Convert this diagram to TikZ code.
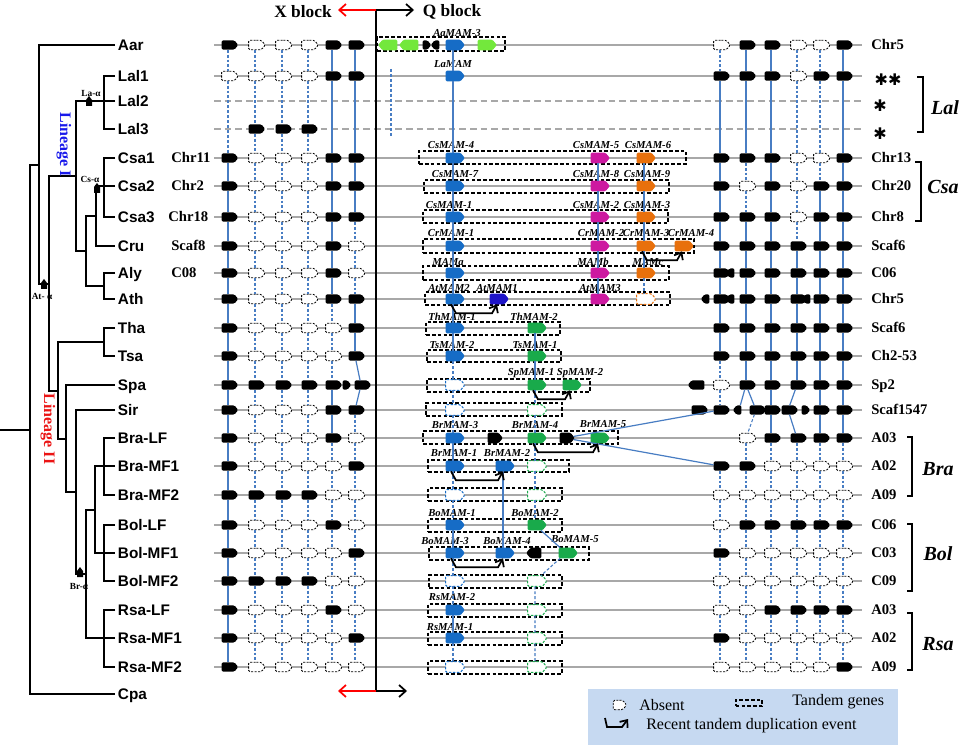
\documentclass[tikz,border=0pt]{standalone}
\usepackage{fontspec}
\setmainfont{Liberation Serif}
\newfontfamily\arialf{Liberation Sans}
\newfontfamily\djv{DejaVu Sans}
\usetikzlibrary{shapes.symbols,arrows.meta}
\definecolor{gblue}{RGB}{22,108,198}
\definecolor{lblue}{RGB}{72,125,195}
\definecolor{gmag}{RGB}{205,25,160}
\definecolor{gorg}{RGB}{232,112,12}
\definecolor{ggrn}{RGB}{25,170,75}
\definecolor{glime}{RGB}{115,232,60}
\definecolor{gdblue}{RGB}{30,20,200}
\definecolor{rowgray}{RGB}{168,168,168}
\definecolor{legbg}{RGB}{198,217,241}
\definecolor{linI}{RGB}{25,25,235}
\definecolor{linII}{RGB}{235,20,20}
\tikzset{
  sg/.style={shape=signal, signal to=east, signal pointer angle=100, inner sep=0pt, outer sep=0pt, minimum width=12.5pt, minimum height=7pt, rounded corners=1pt},
  gF/.style={sg, fill=black},
  gA/.style={sg, draw=black, fill=white, line width=0.6pt, dash pattern=on 1.6pt off 1pt},
  gSm/.style={sg, fill=black, minimum width=6.5pt},
  mg/.style={shape=signal, signal to=east, signal pointer angle=100, inner sep=0pt, outer sep=0pt, minimum width=14.5pt, minimum height=8pt, rounded corners=1pt},
  mF/.style={mg, fill=#1},
  mA/.style={mg, draw=#1, fill=white, line width=0.75pt, dash pattern=on 1.8pt off 1.2pt},
  lnkS/.style={draw=lblue, line width=0.9pt},
  lnkD/.style={draw=lblue, line width=0.8pt, dash pattern=on 2.2pt off 1.5pt},
  rowline/.style={draw=rowgray, line width=1pt},
  rowdash/.style={draw=rowgray, line width=1pt, dash pattern=on 5pt off 3pt},
  tbox/.style={draw=black, line width=1.1pt, dash pattern=on 2.8pt off 1.6pt, inner sep=0pt},
  tand/.style={draw=black, line width=1.3pt, -{Straight Barb[length=4.5pt,width=7.5pt,line width=1.3pt]}},
  glab/.style={font=\bfseries\itshape\fontsize{8}{9}\selectfont, inner sep=0pt},
  splab/.style={anchor=west, font=\arialf\bfseries\fontsize{11.5}{13}\selectfont, inner sep=2pt, text height=8.2pt, text depth=0pt},
  chrlab/.style={anchor=west, font=\bfseries\fontsize{11}{13}\selectfont, inner sep=0pt, text height=7.3pt, text depth=0pt},
  grplab/.style={font=\bfseries\itshape\fontsize{15}{17}\selectfont, inner sep=0pt},
  trl/.style={draw=black, line width=1.7pt},
  mklab/.style={font=\bfseries\fontsize{7}{8}\selectfont, inner sep=0pt},
  legt/.style={anchor=west, font=\fontsize{12}{14}\selectfont, inner sep=0pt},
  brk/.style={draw=black, line width=0.8pt},
  hdr/.style={font=\bfseries\fontsize{13}{15}\selectfont, inner sep=0pt},
  harr/.style={line width=1.3pt, -{Straight Barb[length=5pt,width=9pt,line width=1.3pt]}},
}
\def\cF{F}\def\cA{A}\def\cN{N}\def\cX{X}\def\cR{R}\def\cS{S}\def\cL{L}
\newcommand\geneblock[3]{%
  \foreach \r/\y/\codes in {#3} {%
    \foreach \t [count=\c] in \codes {%
      \pgfmathsetmacro\gx{{#2}[\c-1]}%
      \edef\gt{\t}%
      \ifx\gt\cR \pgfmathsetmacro\gx{\gx+6}\def\gt{F}\fi
      \ifx\gt\cS \pgfmathsetmacro\gx{\gx+10}\def\gt{F}\fi
      \ifx\gt\cL \pgfmathsetmacro\gx{\gx-9}\def\gt{F}\fi
      \ifx\gt\cF \node[gF] (#1-\r-\c) at (\gx,\y) {};\fi
      \ifx\gt\cA \node[gA] (#1-\r-\c) at (\gx,\y) {};\fi
      \expandafter\xdef\csname gt#1-\r-\c\endcsname{\gt}%
    }%
  }%
  \foreach \c in {1,...,6} {%
    \gdef\gprev{}\gdef\gprevt{}%
    \foreach \r in {1,...,23} {%
      \edef\gcur{\csname gt#1-\r-\c\endcsname}%
      \ifx\gcur\cX \gdef\gprev{}\else
      \ifx\gcur\cN \else
        \ifx\gprev\empty\else
          \def\gsolid{0}%
          \ifx\gcur\cF\ifx\gprevt\cF\def\gsolid{1}\fi\fi
          \if1\gsolid \draw[lnkS] (#1-\gprev-\c) -- (#1-\r-\c);\else \draw[lnkD] (#1-\gprev-\c) -- (#1-\r-\c);\fi
        \fi
        \xdef\gprev{\r}\xdef\gprevt{\gcur}%
      \fi\fi
    }%
  }%
}
\newcommand\tanbox[5]{%
  \pgfmathsetmacro\tbw{(#3-#2)*0.75}%
  \pgfmathsetmacro\tbh{(#5-#4)*0.75}%
  \node[tbox, minimum width=\tbw pt, minimum height=\tbh pt] (#1) at ({(#2+#3)/2},{(#4+#5)/2}) {};%
}
\newcommand\tandarrow[2]{\draw[tand] ([shift={(-2,0)}]#1.south) -- ([shift={(3,9)}]#1.south) -- ([shift={(-5,9)}]#2.south) -- (#2.south);}
\newcommand\mkr[2]{\fill (#1-3,#2+4) -- (#1-3,#2-2) -- (#1,#2-6) -- (#1+3,#2-2) -- (#1+3,#2+4) -- cycle;}
\begin{document}
\begin{tikzpicture}[x=0.75pt,y=-0.75pt]
\useasboundingbox (0,0) rectangle (964,745);
\fill[white] (0,0) rectangle (964,745);

% ---------- species labels and tree ----------
\foreach \r/\y/\n in {1/45/Aar,2/76/Lal1,3/101/Lal2,4/129/Lal3,5/158/Csa1,6/186/Csa2,7/217/Csa3,8/246/Cru,9/273/Aly,10/299/Ath,11/328/Tha,12/356/Tsa,13/385/Spa,14/410/Sir,15/438/Bra-LF,16/466/Bra-MF1,17/495/Bra-MF2,18/525/Bol-LF,19/553/Bol-MF1,20/581/Bol-MF2,21/610/Rsa-LF,22/638/Rsa-MF1,23/667/Rsa-MF2,24/694/Cpa}
  {\node[splab] (sp\r) at (115,\y) {\n};}

\draw[trl] (0,430) -- (30,430);
\draw[trl] (39,165) -- (30,165) -- (30,694) -- (sp24.west);
\draw[trl] (sp1.west) -- (39,45) -- (39,284) -- (49,284);
\draw[trl] (76,176) -- (49,176) -- (49,391) -- (58,391);
\draw[trl] (sp2.west) -- (104,76) -- (104,129) -- (sp4.west);
\draw[trl] (sp3.west) -- (76,101) -- (76,251) -- (86,251);
\draw[trl] (sp5.west) -- (104,158) -- (104,217) -- (sp7.west);
\draw[trl] (sp6.west) -- (96,186) -- (96,246) -- (sp8.west);
\draw[trl] (96,216) -- (86,216) -- (86,286) -- (104,286);
\draw[trl] (sp9.west) -- (104,273) -- (104,299) -- (sp10.west);
\draw[trl] (sp11.west) -- (104,328) -- (104,356) -- (sp12.west);
\draw[trl] (104,342) -- (58,342) -- (58,439) -- (66,439);
\draw[trl] (sp13.west) -- (66,385) -- (66,492) -- (76,492);
\draw[trl] (sp14.west) -- (76,410) -- (76,574) -- (86,574);
\draw[trl] (sp22.west) -- (86,638) -- (86,510) -- (95,510);
\draw[trl] (sp16.west) -- (95,466) -- (95,553) -- (sp19.west);
\draw[trl] (sp15.west) -- (104,438) -- (104,495) -- (sp17.west);
\draw[trl] (sp18.west) -- (104,525) -- (104,581) -- (sp20.west);
\draw[trl] (sp21.west) -- (104,610) -- (104,667) -- (sp23.west);

\mkr{89}{102}
\mkr{97}{189}
\mkr{44}{285}
\mkr{80}{573}
\node[mklab] (mkLa) at (91,93) {La-α};
\node[mklab] (mkCs) at (90,179) {Cs-α};
\node[mklab] (mkAt) at (42,296) {At- α};
\node[mklab] (mkBr) at (79,586) {Br-α};
\node[font=\bfseries\fontsize{12}{14}\selectfont, text=linI, rotate=-90, inner sep=0pt] (linI) at (64,145) {Lineage I};
\node[font=\bfseries\fontsize{12}{14}\selectfont, text=linII, rotate=-90, inner sep=0pt] (linII) at (48,429) {Lineage II};

% ---------- left chromosome labels ----------
\node[chrlab] (lc1) at (171,158) {Chr11};
\node[chrlab] (lc2) at (171,186) {Chr2};
\node[chrlab] (lc3) at (168,217) {Chr18};
\node[chrlab] (lc4) at (171,246) {Scaf8};
\node[chrlab] (lc5) at (171,273) {C08};

% ---------- row lines ----------
\foreach \y in {45,76,158,186,217,246,273,299,328,356,385,410,438,466,495,525,553,581,610,638,667}
  {\draw[rowline] (214,\y) -- (862,\y);}
\foreach \y in {101,129} {\draw[rowdash] (214,\y) -- (862,\y);}

% ---------- Q / X block axis ----------
\coordinate (qT) at (376,10);
\coordinate (qB) at (376,691);
\coordinate (qTr) at (414,10);
\coordinate (qTl) at (338,10);
\coordinate (qBr) at (407,691);
\coordinate (qBl) at (338,691);
\draw[black, line width=1.5pt] (qT) -- (qB);
\draw[harr, black] (qT) -- (qTr);
\draw[harr, red] (qT) -- (qTl);
\draw[harr, black] (qB) -- (qBr);
\draw[harr, red] (qB) -- (qBl);
\node[hdr] (xbl) at (303,12) {X block};
\node[hdr] (qbl) at (452,12) {Q block};

% ---------- left block ----------
\geneblock{L}{228,255,282,308,332,355}{%
1/45/{F,A,A,A,F,F},
2/76/{A,A,A,A,F,F},
3/101/{N,N,N,N,N,N},
4/129/{N,F,F,F,N,N},
5/158/{F,A,A,A,F,F},
6/186/{F,A,A,A,F,F},
7/217/{F,A,A,A,F,F},
8/246/{F,A,A,A,F,A},
9/273/{F,A,A,A,F,A},
10/299/{F,A,A,A,F,F},
11/328/{F,A,A,A,A,F},
12/356/{F,A,A,A,A,F},
13/385/{F,F,F,F,F,R},
14/410/{F,A,A,A,F,F},
15/438/{F,A,A,A,F,A},
16/466/{F,A,A,A,A,F},
17/495/{F,F,F,F,A,A},
18/525/{F,A,A,A,F,A},
19/553/{F,A,A,A,A,F},
20/581/{F,F,F,F,A,A},
21/610/{F,A,A,A,F,A},
22/638/{F,A,A,A,A,F},
23/667/{F,A,A,A,A,A}}
\node[gSm] (lxa) at (345,385) {};

% ---------- right block ----------
\geneblock{R}{720,746,771,797,820,843}{%
1/45/{A,F,F,A,A,F},
2/76/{F,F,F,A,F,F},
3/101/{N,N,N,N,N,N},
4/129/{N,N,N,N,N,N},
5/158/{F,F,F,A,A,F},
6/186/{F,A,F,A,F,F},
7/217/{F,F,F,A,F,F},
8/246/{F,F,F,F,F,F},
9/273/{F,F,F,F,F,F},
10/299/{F,F,F,F,F,F},
11/328/{F,F,F,F,F,F},
12/356/{F,F,F,F,F,F},
13/385/{A,F,F,F,F,F},
14/410/{F,S,F,L,F,F},
15/438/{X,A,F,F,F,F},
16/466/{F,F,A,A,A,A},
17/495/{A,A,A,A,A,A},
18/525/{A,F,F,F,F,F},
19/553/{F,A,A,A,A,A},
20/581/{A,A,A,A,A,A},
21/610/{A,A,F,F,F,F},
22/638/{F,A,A,A,A,A},
23/667/{A,A,A,A,A,F}}
\node[gSm, signal to=west] (rxa) at (732,273) {};
\node[gSm, signal to=west] (rxb) at (707,299) {};
\node[gSm, signal to=west] (rxc) at (732,299) {};
\node[gSm, signal to=west] (rxd) at (808,299) {};
\node[gF, signal to=west] (rxe) at (698,385) {};
\node[gF] (rxf) at (698,410) {};
\node[gSm, signal to=west] (rxg) at (739,410) {};
\node[gSm] (rxh) at (804,410) {};
\draw[lnkS] (R-13-2) -- (rxg);

% ---------- right labels ----------
\foreach \y/\n [count=\k] in {45/Chr5,158/Chr13,186/Chr20,217/Chr8,246/Scaf6,273/C06,299/Chr5,328/Scaf6,356/Ch2-53,385/Sp2,410/Scaf1547,438/A03,466/A02,495/A09,525/C06,553/C03,581/C09,610/A03,638/A02,667/A09}
  {\node[chrlab] (rc\k) at (871,\y) {\n};}
\node[font=\djv\fontsize{12}{14}\selectfont, inner sep=0pt] (ast1) at (888,80) {✱✱};
\node[font=\djv\fontsize{12}{14}\selectfont, inner sep=0pt] (ast2) at (880,106) {✱};
\node[font=\djv\fontsize{12}{14}\selectfont, inner sep=0pt] (ast3) at (880,134) {✱};
\draw[brk] (917,77) -- (923,77) -- (923,132) -- (917,132);
\draw[brk] (915,162) -- (921,162) -- (921,221) -- (915,221);
\draw[brk] (907,437) -- (912,437) -- (912,496) -- (907,496);
\draw[brk] (907,524) -- (912,524) -- (912,591) -- (907,591);
\draw[brk] (907,613) -- (912,613) -- (912,670) -- (907,670);
\node[grplab] (gLal) at (945,108) {Lal};
\node[grplab] (gCsa) at (943,187) {Csa};
\node[grplab] (gBra) at (938,469) {Bra};
\node[grplab] (gBol) at (938,554) {Bol};
\node[grplab] (gRsa) at (938,644) {Rsa};

% ---------- middle: tandem boxes ----------
\tanbox{bAar}{377}{505}{37}{51}
\tanbox{bCa}{419}{686}{151}{164}
\tanbox{bCb}{424}{669}{180}{193}
\tanbox{bCc}{423}{668}{210}{223}
\tanbox{bCru}{423}{694}{239}{253}
\tanbox{bAly}{423}{669}{266}{280}
\tanbox{bAth}{425}{670}{292}{305}
\tanbox{bTha}{426}{560}{322}{335}
\tanbox{bTsa}{427}{561}{350}{362}
\tanbox{bSpa}{427}{590}{379}{392}
\tanbox{bSir}{426}{562}{403}{416}
\tanbox{bBa}{423}{618}{431}{444}
\tanbox{bBb}{428}{569}{460}{472}
\tanbox{bBc}{428}{562}{488}{501}
\tanbox{bOa}{428}{562}{519}{532}
\tanbox{bOb}{429}{589}{547}{560}
\tanbox{bOc}{429}{562}{575}{588}
\tanbox{bRa}{428}{562}{604}{617}
\tanbox{bRb}{428}{562}{632}{645}
\tanbox{bRc}{428}{562}{661}{674}

\draw[lnkD, line width=1pt] (391,69) -- (391,136);

% ---------- middle: genes ----------
\node[mF=glime, signal to=west] (mAg1) at (390,45) {};
\node[mF=glime, signal to=west] (mAg2) at (411,45) {};
\node[gSm] (mAk1) at (425,45) {};
\node[gSm, signal to=west] (mAk2) at (437,45) {};
\node[mF=gblue] (mAa) at (453,45) {};
\node[mF=glime] (mAg3) at (485,45) {};
\node[mF=gblue] (mLa) at (453,76) {};
\node[mF=gblue] (mC4) at (453,158) {};
\node[mF=gmag] (mC5) at (598,158) {};
\node[mF=gorg] (mC6) at (644,158) {};
\node[mF=gblue] (mC7) at (453,186) {};
\node[mF=gmag] (mC8) at (598,186) {};
\node[mF=gorg] (mC9) at (644,186) {};
\node[mF=gblue] (mC1) at (453,217) {};
\node[mF=gmag] (mC2) at (598,217) {};
\node[mF=gorg] (mC3) at (644,217) {};
\node[mF=gblue] (mR1) at (453,246) {};
\node[mF=gmag] (mR2) at (598,246) {};
\node[mF=gorg] (mR3) at (644,246) {};
\node[mF=gorg] (mR4) at (682,246) {};
\node[mF=gblue] (mMa) at (453,273) {};
\node[mF=gmag] (mMb) at (598,273) {};
\node[mF=gorg] (mMc) at (644,273) {};
\node[mF=gblue] (mA2) at (453,299) {};
\node[mF=gdblue] (mA1) at (497,299) {};
\node[mF=gmag] (mA3) at (598,299) {};
\node[mA=gorg] (mAx) at (644,299) {};
\node[mF=gblue] (mT1) at (453,328) {};
\node[mF=ggrn] (mT2) at (535,328) {};
\node[mF=gblue] (mS2) at (453,356) {};
\node[mF=ggrn] (mS1) at (535,356) {};
\node[mA=gblue] (mPx) at (453,385) {};
\node[mF=ggrn] (mP1) at (535,385) {};
\node[mF=ggrn] (mP2) at (570,385) {};
\node[mA=gblue] (mIb) at (453,410) {};
\node[mA=ggrn] (mIg) at (535,410) {};
\node[mF=gblue] (mB3) at (453,438) {};
\node[mF=black, minimum width=11.5pt] (mBk1) at (493,438) {};
\node[mF=ggrn] (mB4) at (535,438) {};
\node[mF=black, minimum width=11.5pt] (mBk2) at (565,438) {};
\node[mF=ggrn] (mB5) at (598,438) {};
\node[mF=gblue] (mB1) at (453,466) {};
\node[mF=gblue] (mB2) at (503,466) {};
\node[mA=ggrn] (mBg) at (535,466) {};
\node[mA=gblue] (mBxb) at (453,495) {};
\node[mA=ggrn] (mBxg) at (535,495) {};
\node[mF=gblue] (mO1) at (453,525) {};
\node[mF=ggrn] (mO2) at (535,525) {};
\node[mF=gblue] (mO3) at (453,553) {};
\node[mF=gblue] (mO4) at (503,553) {};
\node[mF=black, signal to=west, minimum width=11.5pt] (mOk) at (536,553) {};
\node[mF=ggrn] (mO5) at (566,553) {};
\node[mA=gblue] (mOxb) at (453,581) {};
\node[mA=ggrn] (mOxg) at (535,581) {};
\node[mF=gblue] (mQ2) at (453,610) {};
\node[mA=ggrn] (mQg) at (535,610) {};
\node[mF=gblue] (mQ1) at (453,638) {};
\node[mA=ggrn] (mQg2) at (535,638) {};
\node[mA=gblue] (mQxb) at (453,667) {};
\node[mA=ggrn] (mQxg) at (535,667) {};

% ---------- middle: labels ----------
\node[glab] (tAa) at (457,33) {AaMAM-3};
\node[glab] (tLa) at (453,64) {LaMAM};
\node[glab] (tC4) at (451,145) {CsMAM-4};
\node[glab] (tC5) at (596,145) {CsMAM-5};
\node[glab] (tC6) at (648,145) {CsMAM-6};
\node[glab] (tC7) at (455,174) {CsMAM-7};
\node[glab] (tC8) at (596,174) {CsMAM-8};
\node[glab] (tC9) at (647,174) {CsMAM-9};
\node[glab] (tC1) at (449,205) {CsMAM-1};
\node[glab] (tC2) at (596,205) {CsMAM-2};
\node[glab] (tC3) at (647,205) {CsMAM-3};
\node[glab] (tR1) at (451,233) {CrMAM-1};
\node[glab] (tR2) at (601,233) {CrMAM-2};
\node[glab] (tR3) at (646,233) {CrMAM-3};
\node[glab] (tR4) at (691,233) {CrMAM-4};
\node[glab] (tMa) at (448,262) {MAMa};
\node[glab] (tMb) at (593,262) {MAMb};
\node[glab] (tMc) at (648,262) {MAMc};
\node[glab] (tA2) at (449,288) {AtMAM2};
\node[glab] (tA1) at (497,288) {AtMAM1};
\node[glab] (tA3) at (600,288) {AtMAM3};
\node[glab] (tT1) at (452,317) {ThMAM-1};
\node[glab] (tT2) at (534,317) {ThMAM-2};
\node[glab] (tS2) at (452,345) {TsMAM-2};
\node[glab] (tS1) at (535,345) {TsMAM-1};
\node[glab] (tP1) at (531,373) {SpMAM-1};
\node[glab] (tP2) at (580,373) {SpMAM-2};
\node[glab] (tB3) at (455,425) {BrMAM-3};
\node[glab] (tB4) at (535,425) {BrMAM-4};
\node[glab] (tB5) at (603,424) {BrMAM-5};
\node[glab] (tB1) at (454,453) {BrMAM-1};
\node[glab] (tB2) at (507,453) {BrMAM-2};
\node[glab] (tO1) at (452,513) {BoMAM-1};
\node[glab] (tO2) at (535,513) {BoMAM-2};
\node[glab] (tO3) at (445,541) {BoMAM-3};
\node[glab] (tO4) at (507,541) {BoMAM-4};
\node[glab] (tO5) at (575,539) {BoMAM-5};
\node[glab] (tQ2) at (452,597) {RsMAM-2};
\node[glab] (tQ1) at (450,627) {RsMAM-1};

% ---------- middle: connectors ----------
\draw[lnkS] (mAa) -- (mLa) -- (mC4) -- (mC7) -- (mC1) -- (mR1) -- (mMa) -- (mA2) -- (mT1) -- (mS2);
\draw[lnkD] (mS2) -- (mPx) -- (mIb) -- (mB3);
\draw[lnkS] (mB3) -- (mB1);
\draw[lnkD] (mB1) -- (mBxb) -- (mO1);
\draw[lnkS] (mO1) -- (mO3);
\draw[lnkD] (mO3) -- (mOxb) -- (mQ2);
\draw[lnkS] (mQ2) -- (mQ1);
\draw[lnkD] (mQ1) -- (mQxb);
\draw[lnkS] (mC5) -- (mC8) -- (mC2) -- (mR2) -- (mMb) -- (mA3);
\draw[lnkS] (mC6) -- (mC9) -- (mC3) -- (mR3) -- (mMc);
\draw[lnkD] (mMc) -- (mAx);
\draw[lnkS] (mT2) -- (mS1) -- (mP1);
\draw[lnkD] (mP1) -- (mIg) -- (mB4) -- (mBg) -- (mBxg) -- (mO2);
\draw[lnkS] (mO2) -- (mO5);
\draw[lnkD] (mO5) -- (mOxg) -- (mQg) -- (mQg2) -- (mQxg);
\draw[lnkS] (mB2) -- (mO4);
\draw[lnkS] (mBk2) -- (R-14-1);
\draw[lnkS] (mBk2) -- (R-16-1);

% ---------- tandem duplication arrows ----------
\tandarrow{mR3}{mR4}
\tandarrow{mA2}{mA1}
\tandarrow{mP1}{mP2}
\tandarrow{mB4}{mB5}
\tandarrow{mB1}{mB2}
\tandarrow{mO3}{mO4}

% ---------- legend ----------
\fill[legbg] (588,689) rectangle (898,745);
\node[gA, minimum width=10pt] (lgA) at (618,705) {};
\node[legt] (lgAt) at (639,705) {Absent};
\node[tbox, line width=1.3pt, minimum width=20pt, minimum height=5pt] (lgT) at (749,703) {};
\node[legt] (lgTt) at (792,702) {Tandem genes};
\coordinate (lgR1) at (605,718);
\coordinate (lgR2) at (607,727);
\coordinate (lgR3) at (622,727);
\coordinate (lgR4) at (628,719);
\draw[tand] (lgR1) -- (lgR2) -- (lgR3) -- (lgR4);
\node[legt] (lgRt) at (646,726) {Recent tandem duplication event};
\end{tikzpicture}
\end{document}
